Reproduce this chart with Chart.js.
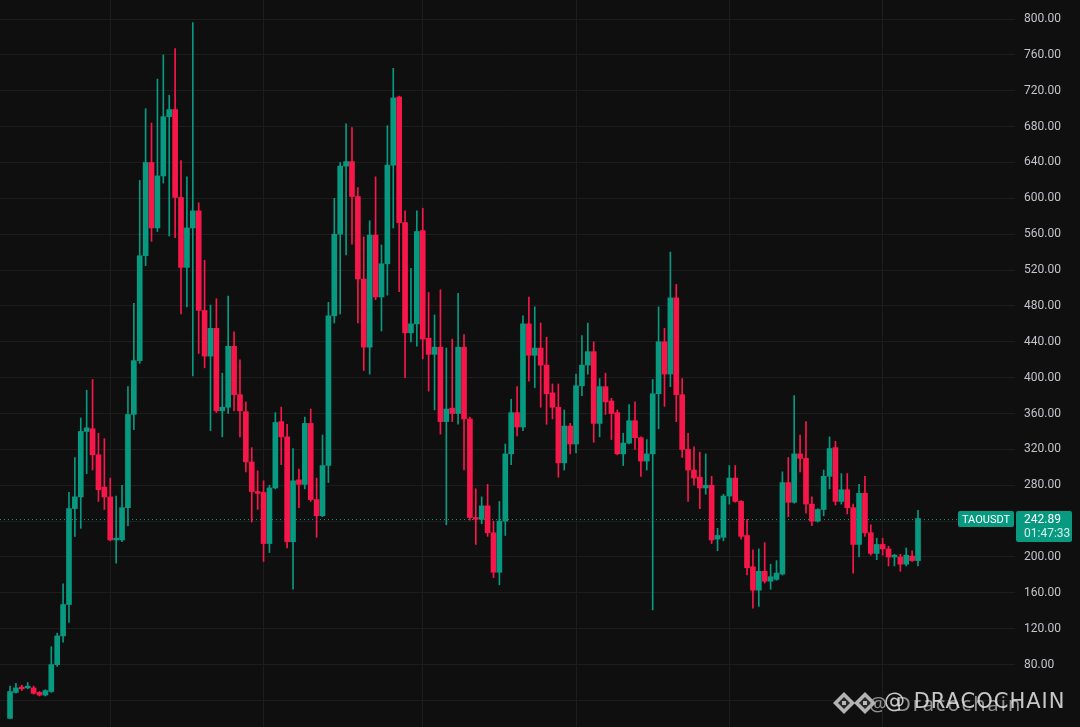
<!DOCTYPE html>
<html>
<head>
<meta charset="utf-8">
<title>TAOUSDT</title>
<script src="https://cdn.jsdelivr.net/npm/chart.js@4.4.1/dist/chart.umd.min.js"></script>
<style>
  html, body { margin: 0; padding: 0; background: #0f0f0f; }
  #wrap { width: 1080px; height: 727px; }
</style>
</head>
<body>
<div id="wrap"><canvas id="graph" width="1080" height="727"></canvas></div>
<script>
// daily candles
const opens = [20, 49, 55, 54, 54, 49, 46, 50, 80, 112, 147, 254, 267, 340, 343, 314, 278, 267, 219, 219,
  255, 359, 419, 536, 640, 567, 625, 691, 699, 601, 523, 567, 586, 475, 424, 455, 363, 367, 435, 381,
  362, 306, 273, 272, 215, 277, 351, 334, 217, 286, 281, 349, 264, 246, 302, 469, 560, 636, 641, 602,
  510, 434, 559, 490, 527, 637, 713, 573, 450, 460, 564, 444, 426, 434, 351, 366, 360, 434, 354, 244,
  242, 257, 227, 183, 240, 315, 361, 345, 460, 425, 433, 414, 383, 367, 305, 346, 326, 391, 414, 429,
  349, 390, 374, 361, 315, 327, 352, 333, 307, 315, 382, 440, 404, 489, 381, 320, 297, 289, 277, 280,
  220, 222, 268, 288, 262, 224, 189, 163, 184, 173, 175, 181, 283, 261, 315, 310, 259, 240, 253, 290,
  322, 262, 275, 255, 214, 271, 227, 204, 214, 209, 200, 200, 192, 201, 196]
const highs = [56, 59, 57, 60, 56, 50, 52, 100, 115, 170, 272, 311, 355, 386, 398, 338, 332, 288, 268, 280,
  390, 483, 620, 700, 684, 733, 760, 715, 767, 642, 624, 796, 595, 531, 481, 488, 405, 491, 451, 420,
  373, 322, 296, 285, 280, 361, 367, 348, 321, 298, 356, 365, 288, 336, 484, 600, 640, 683, 679, 612,
  557, 575, 624, 548, 681, 745, 714, 586, 522, 586, 589, 495, 470, 498, 433, 443, 494, 448, 356, 276,
  267, 281, 240, 262, 326, 376, 390, 469, 490, 479, 461, 445, 393, 393, 364, 349, 404, 447, 461, 440,
  399, 405, 377, 364, 338, 370, 373, 334, 331, 398, 479, 455, 540, 504, 399, 338, 323, 317, 315, 290,
  232, 270, 302, 302, 263, 242, 208, 209, 216, 192, 196, 295, 311, 380, 336, 351, 267, 254, 297, 334,
  329, 293, 293, 259, 281, 290, 236, 221, 221, 212, 203, 203, 210, 207, 252]
const lows = [20, 48, 51, 53, 47, 45, 45, 49, 78, 105, 127, 223, 232, 293, 297, 262, 253, 218, 193, 217,
  235, 342, 416, 525, 552, 563, 617, 558, 556, 471, 479, 402, 427, 411, 341, 361, 334, 360, 363, 334,
  295, 239, 253, 195, 205, 276, 303, 210, 164, 255, 276, 262, 222, 245, 283, 461, 471, 537, 549, 461,
  408, 404, 487, 452, 492, 567, 496, 400, 440, 435, 421, 385, 364, 337, 236, 351, 348, 297, 241, 214,
  237, 223, 177, 169, 224, 303, 335, 341, 396, 389, 367, 348, 354, 289, 297, 315, 316, 380, 404, 328,
  334, 359, 331, 314, 302, 326, 320, 290, 297, 141, 343, 368, 390, 351, 311, 262, 280, 254, 270, 215,
  207, 218, 259, 261, 220, 180, 143, 145, 171, 164, 174, 180, 245, 260, 295, 249, 235, 239, 246, 276,
  258, 259, 248, 182, 200, 223, 202, 197, 202, 190, 190, 184, 190, 195, 190]
const closes = [50, 54, 53, 56, 48, 46, 51, 80, 112, 147, 254, 267, 340, 344, 314, 275, 267, 219, 221, 255,
  359, 419, 536, 640, 567, 625, 691, 699, 601, 523, 567, 586, 475, 424, 455, 363, 367, 435, 381, 363,
  306, 273, 271, 215, 277, 350, 334, 217, 285, 281, 349, 264, 246, 302, 469, 560, 636, 641, 602, 510,
  434, 559, 490, 527, 637, 712, 573, 450, 460, 563, 443, 426, 434, 351, 365, 360, 434, 354, 244, 242,
  257, 227, 183, 240, 315, 361, 345, 460, 425, 433, 414, 382, 367, 305, 346, 326, 391, 414, 429, 349,
  390, 373, 360, 315, 327, 352, 333, 307, 315, 382, 440, 404, 489, 381, 320, 297, 288, 277, 280, 219,
  224, 268, 288, 262, 223, 188, 163, 184, 173, 178, 182, 283, 261, 315, 310, 259, 240, 253, 290, 321,
  262, 275, 255, 214, 271, 227, 204, 214, 209, 200, 202, 192, 202, 196, 242.89]

const symbol = 'TAOUSDT'
const countdown = '01:47:33'
const priceTicks = [40, 80, 120, 160, 200, 240, 280, 320, 360, 400, 440, 480, 520, 560, 600, 640, 680, 720, 760, 800]
const periodLines = [17, 43, 70, 96, 122, 148]

const upColor = '#089981'
const downColor = '#f7174a'

let candleColors = opens.map((o, i) => closes[i] >= o ? upColor : downColor)
let wicks = lows.map((l, i) => ({ x: i, y: [l, highs[i]] }))
let bodies = opens.map((o, i) => {
    let c = closes[i]
    // keep dojis visible
    if (Math.abs(c - o) < 1.5) c = o + (c >= o ? 1.5 : -1.5)
    return { x: i, y: [o, c] }
})

let lastPrice = closes[closes.length - 1]

const priceLine = {
    id: 'priceLine',
    beforeDatasetsDraw(chart) {
        let ctx = chart.ctx
        let y = Math.round(chart.scales.y.getPixelForValue(lastPrice)) + 0.5
        ctx.save()
        ctx.strokeStyle = upColor
        ctx.lineWidth = 1
        ctx.setLineDash([1, 3])
        ctx.beginPath()
        ctx.moveTo(chart.chartArea.left, y)
        ctx.lineTo(chart.chartArea.right, y)
        ctx.stroke()
        ctx.restore()
    },
    afterDraw(chart) {
        let ctx = chart.ctx
        let y = Math.round(chart.scales.y.getPixelForValue(lastPrice))
        let right = chart.chartArea.right
        ctx.save()
        ctx.fillStyle = upColor
        ctx.beginPath()
        ctx.roundRect(right - 57, y - 8, 56, 16, 2)
        ctx.fill()
        ctx.beginPath()
        ctx.roundRect(right + 1, y - 8, 56, 31, 2)
        ctx.fill()
        ctx.fillStyle = '#ffffff'
        ctx.font = '11px Roboto'
        ctx.textBaseline = 'middle'
        ctx.textAlign = 'center'
        ctx.fillText(symbol, right - 29, y + 1)
        ctx.textAlign = 'left'
        ctx.font = '12px Roboto'
        ctx.fillText(lastPrice.toFixed(2), right + 9, y + 1)
        ctx.fillStyle = '#d6efe9'
        ctx.fillText(countdown, right + 9, y + 15)

        // watermark
        ctx.globalAlpha = 0.85
        let drawLogo = function (cx, cy) {
            ctx.fillStyle = '#d0d0d0'
            ctx.beginPath()
            ctx.moveTo(cx, cy - 11); ctx.lineTo(cx + 11, cy); ctx.lineTo(cx, cy + 11); ctx.lineTo(cx - 11, cy)
            ctx.closePath()
            ctx.fill()
            ctx.fillStyle = '#0f0f0f'
            ctx.beginPath()
            ctx.moveTo(cx, cy - 6); ctx.lineTo(cx + 6, cy); ctx.lineTo(cx, cy + 6); ctx.lineTo(cx - 6, cy)
            ctx.closePath()
            ctx.fill()
            ctx.fillStyle = '#d0d0d0'
            ctx.fillRect(cx - 2, cy - 2, 4, 4)
        }
        drawLogo(844, 703)
        drawLogo(865, 703)
        ctx.textAlign = 'left'
        ctx.textBaseline = 'middle'
        ctx.font = '20px "Noto Sans"'
        ctx.fillStyle = '#a8a8a8'
        ctx.letterSpacing = '2px'
        ctx.fillText('@ Dracochain', 869, 705)
        ctx.fillStyle = '#e6e6e6'
        ctx.font = '21px "DejaVu Sans"'
        ctx.letterSpacing = '1px'
        ctx.fillText('@ DRACOCHAIN', 884, 703, 188)
        ctx.restore()
    }
}

let graph = document.getElementById('graph').getContext('2d')

new Chart(graph, {
    type: 'bar',
    data: {
        datasets: [
            {
                label: 'wick',
                data: wicks,
                backgroundColor: candleColors,
                barThickness: 1,
                grouped: false
            },
            {
                label: 'body',
                data: bodies,
                backgroundColor: candleColors,
                barThickness: 5,
                grouped: false
            }
        ]
    },
    options: {
        responsive: false,
        animation: false,
        layout: { padding: 0 },
        plugins: {
            legend: { display: false },
            tooltip: { enabled: false }
        },
        scales: {
            x: {
                type: 'linear',
                min: -1.7,
                max: 170.45,
                offset: false,
                afterBuildTicks(scale) {
                    scale.ticks = periodLines.map(v => ({ value: v }))
                },
                afterFit(scale) {
                    scale.height = 0
                    scale.paddingLeft = 0
                    scale.paddingRight = 0
                },
                ticks: { display: false },
                grid: { color: '#1d1d1d', drawTicks: false, offset: false },
                border: { display: false }
            },
            y: {
                position: 'right',
                min: 10.4,
                max: 821.2,
                afterBuildTicks(scale) {
                    scale.ticks = priceTicks.map(v => ({ value: v }))
                },
                afterFit(scale) {
                    scale.width = 65
                    scale.paddingTop = 0
                    scale.paddingBottom = 0
                },
                ticks: {
                    color: '#c2c4ca',
                    padding: 9,
                    font: { family: 'Roboto', size: 12 },
                    callback: v => v === 40 ? '' : v.toFixed(2)
                },
                grid: { color: '#1d1d1d', drawTicks: false },
                border: { display: false }
            }
        }
    },
    plugins: [priceLine]
})
</script>
</body>
</html>
